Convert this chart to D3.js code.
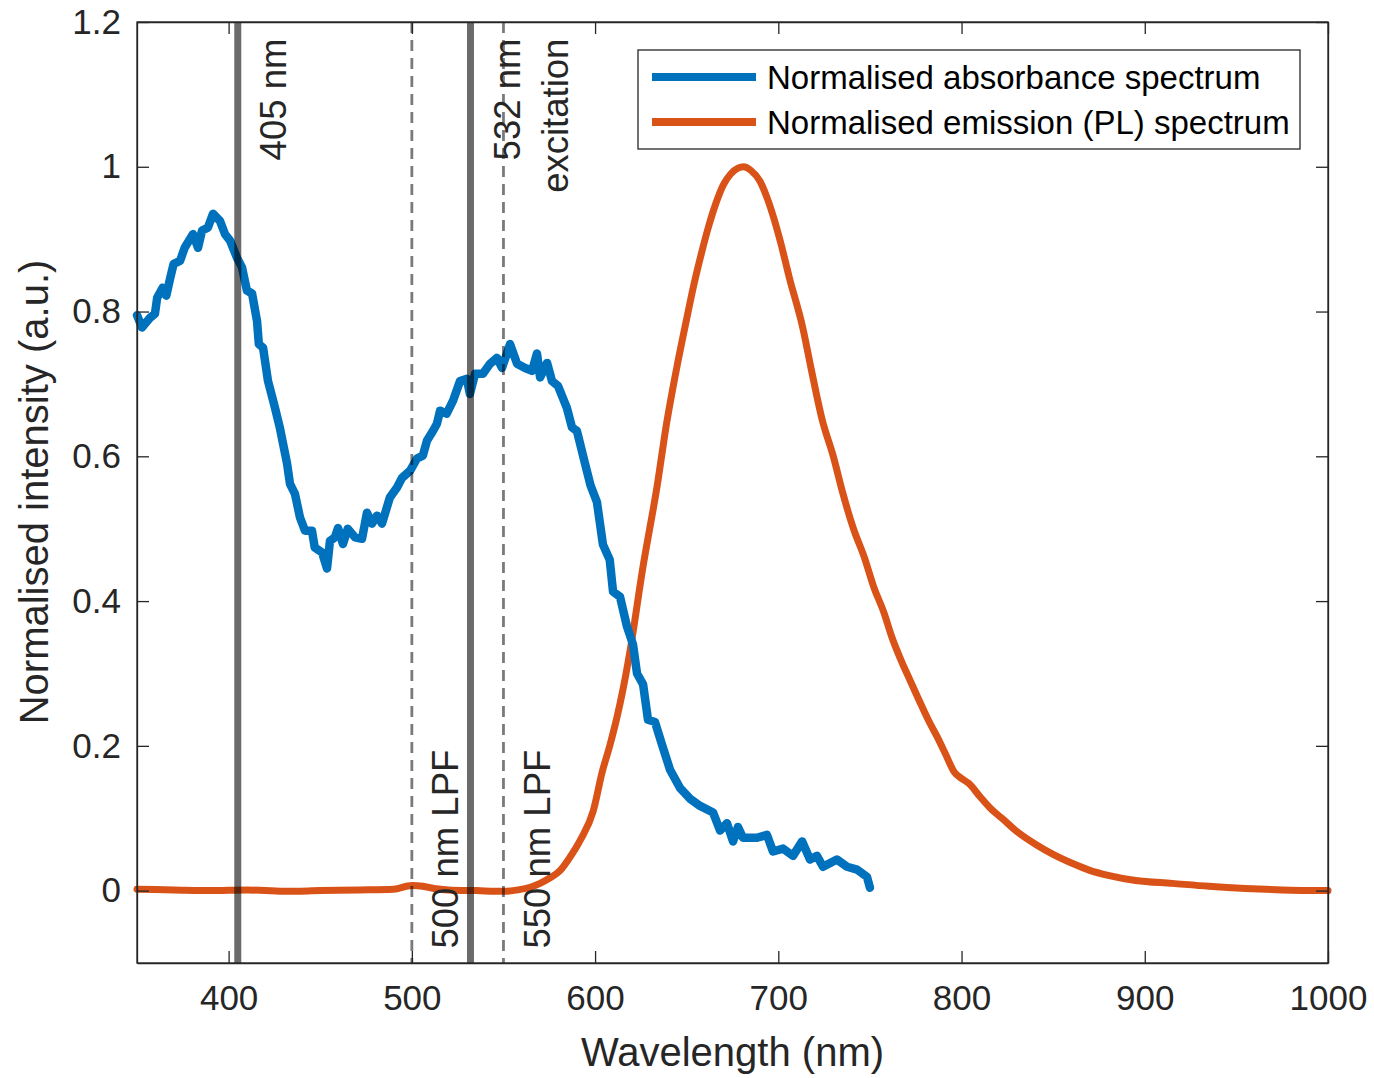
<!doctype html>
<html lang="en">
    <head>
        <meta charset="utf-8">
        <title>Absorbance and emission spectra</title>
        <script type="text/javascript" src="https://cdn.jsdelivr.net/npm/d3@7"></script>
        <style>
            body { margin: 0; background: #fff; }
            svg { display: block; font-family: "Liberation Sans", Arial, Helvetica, sans-serif; }
            .axis text { fill: #262626; font-size: 35px; }
            .axis line, .axis path { stroke: #262626; stroke-width: 1.3; }
        </style>
    </head>
    <body>
        <script type="text/javascript">
            // values, [wavelength nm, normalised intensity]
            var absorbance = [
                [350, 0.795], [352.7, 0.778], [357, 0.791], [359.8, 0.797], [361, 0.819], [364, 0.833],
                [366, 0.822], [368, 0.845], [370, 0.866], [373.5, 0.87], [376, 0.888], [380.6, 0.907],
                [383.3, 0.888], [385.5, 0.912], [388.7, 0.916], [391.5, 0.935], [395.3, 0.925], [398, 0.907],
                [400.8, 0.898], [404.6, 0.874], [407.3, 0.861], [410, 0.829], [412.8, 0.825], [415.5, 0.787],
                [416.5, 0.755], [418.8, 0.75], [421.5, 0.704], [425, 0.67], [428, 0.639], [431.9, 0.59],
                [433.5, 0.562], [436.2, 0.548], [439, 0.515], [441.7, 0.497], [445.5, 0.497], [447, 0.474],
                [451, 0.467], [453.7, 0.445], [455.3, 0.483], [458, 0.488], [459.7, 0.501], [462.4, 0.479],
                [465, 0.5], [469, 0.488], [472.8, 0.486], [475.5, 0.522], [478.2, 0.507], [481, 0.518],
                [483.7, 0.507], [488, 0.543], [491.9, 0.557], [494.6, 0.57], [499, 0.58], [502.8, 0.597],
                [506, 0.601], [508.3, 0.622], [511.5, 0.635], [513.7, 0.645], [515.4, 0.663], [519, 0.659],
                [522.5, 0.677], [526.3, 0.704], [530, 0.707], [531.7, 0.686], [534.5, 0.714], [538.8, 0.714],
                [542.7, 0.728], [546.5, 0.736], [549.2, 0.722], [553.6, 0.755], [557.4, 0.728], [561.8, 0.722],
                [565.6, 0.718], [568.3, 0.742], [570, 0.709], [573.8, 0.729], [576.5, 0.704], [579.8, 0.697],
                [584.6, 0.667], [587.4, 0.64], [590.1, 0.635], [594.5, 0.59], [597.5, 0.56], [601, 0.537],
                [604.3, 0.478], [608, 0.457], [609.8, 0.413], [613.6, 0.406], [617.4, 0.365], [620.7, 0.34],
                [622.9, 0.3], [626.2, 0.285], [628.9, 0.236], [632.7, 0.233], [636.5, 0.202], [640.9, 0.167],
                [646.3, 0.142], [651.8, 0.127], [657.3, 0.117], [664.4, 0.108], [668.2, 0.083], [672, 0.093],
                [675.3, 0.068], [678, 0.088], [680.7, 0.073], [688.4, 0.073], [693.8, 0.077], [697.1, 0.054],
                [702.6, 0.058], [708, 0.048], [713, 0.068], [717.3, 0.043], [721.1, 0.048], [724.4, 0.033],
                [732, 0.043], [737.5, 0.033], [743, 0.029], [748.4, 0.019], [750, 0.004]
            ];

            var emission = [
                [350, 0.002], [370, 0.001], [390, 0], [410, 0.001], [430, -0.001], [450, 0], [470, 0.001],
                [490, 0.002], [500, 0.007], [506, 0.006], [512, 0.003], [520, 0.001], [535, 0], [550, -0.001],
                [558, 0.001], [565, 0.005], [570, 0.01], [575, 0.017], [581, 0.028], [586, 0.045], [592, 0.07],
                [599, 0.11], [604, 0.165], [608, 0.2], [612, 0.24], [615, 0.275], [619, 0.33], [626, 0.445],
                [634, 0.561], [639, 0.645], [645, 0.728], [650, 0.79], [654, 0.838], [658, 0.88],
                [662, 0.918], [666, 0.95], [670, 0.975], [674, 0.99], [678, 0.998], [681, 1.0], [685, 0.995],
                [690, 0.98], [695, 0.949], [701, 0.898], [706, 0.847], [713.5, 0.776], [718, 0.72], [724, 0.65],
                [730, 0.6], [735, 0.551], [741, 0.5], [747, 0.46], [752, 0.42], [757.5, 0.385], [762, 0.35],
                [767, 0.318], [772, 0.29], [777, 0.262], [782, 0.235], [787, 0.211], [791, 0.19], [796, 0.164],
                [800, 0.155], [804, 0.148], [810, 0.13], [816, 0.113], [822, 0.1], [830, 0.082], [841, 0.063],
                [850, 0.05], [861, 0.037], [870, 0.028], [880, 0.021], [895, 0.014], [915, 0.01], [935, 0.006],
                [955, 0.003], [975, 0.001], [1000, 0]
            ];

            var laserLines = [405, 532];
            var filterLines = [500, 550];
            var xTicks = [400, 500, 600, 700, 800, 900, 1000];
            var yTicks = [0, 0.2, 0.4, 0.6, 0.8, 1, 1.2];
            var seriesNames = ["Normalised absorbance spectrum", "Normalised emission (PL) spectrum"];
            var seriesColors = ["#0072BD", "#D95319"];

            var svgW = 1374;
            var svgH = 1078;
            var margin = {top: 22, right: 46, bottom: 115, left: 137};
            var w = svgW - margin.left - margin.right;
            var h = svgH - margin.top - margin.bottom;

            var xScale = d3.scaleLinear().domain([350, 1000]).range([0, w]);
            var yScale = d3.scaleLinear().domain([-0.1, 1.2]).range([h, 0]);

            var svg = d3.select("body")
                        .append("svg")
                        .attr("width", svgW)
                        .attr("height", svgH);

            svg.append("rect")
               .attr("width", svgW)
               .attr("height", svgH)
               .attr("fill", "#fff");

            var g = svg.append("g")
                       .attr("transform", "translate(" + margin.left + ", " + margin.top + ")");

            var line = d3.line()
                         .x(d => xScale(d[0]))
                         .y(d => yScale(d[1]));

            // emission is a smooth curve, keep it smooth
            var smoothLine = d3.line()
                               .curve(d3.curveMonotoneX)
                               .x(d => xScale(d[0]))
                               .y(d => yScale(d[1]));

            g.append("path")
             .datum(emission)
             .attr("fill", "none")
             .attr("stroke", seriesColors[1])
             .attr("stroke-width", 7)
             .attr("stroke-linejoin", "round")
             .attr("stroke-linecap", "round")
             .attr("d", smoothLine);

            g.append("path")
             .datum(absorbance)
             .attr("fill", "none")
             .attr("stroke", seriesColors[0])
             .attr("stroke-width", 8.5)
             .attr("stroke-linejoin", "round")
             .attr("stroke-linecap", "round")
             .attr("d", line);

            // laser lines and filter edges, semi transparent on top
            g.selectAll(".laser")
             .data(laserLines)
             .enter()
             .append("line")
             .attr("class", "laser")
             .attr("x1", d => xScale(d))
             .attr("x2", d => xScale(d))
             .attr("y1", 0)
             .attr("y2", h)
             .attr("stroke", "#000")
             .attr("stroke-opacity", 0.58)
             .attr("stroke-width", 7);

            g.selectAll(".filter")
             .data(filterLines)
             .enter()
             .append("line")
             .attr("class", "filter")
             .attr("x1", d => xScale(d))
             .attr("x2", d => xScale(d))
             .attr("y1", 0)
             .attr("y2", h)
             .attr("stroke", "#000")
             .attr("stroke-opacity", 0.52)
             .attr("stroke-width", 2.8)
             .attr("stroke-dasharray", "11,7");

            // rotated notes
            var notes = [
                {text: "405 nm", x: 431.3, y: 1.177, anchor: "end"},
                {text: "532 nm", x: 559, y: 1.177, anchor: "end"},
                {text: "excitation", x: 585.2, y: 1.177, anchor: "end"},
                {text: "500 nm LPF", x: 525.2, y: -0.08, anchor: "start"},
                {text: "550 nm LPF", x: 575.4, y: -0.08, anchor: "start"}
            ];

            g.selectAll(".note")
             .data(notes)
             .enter()
             .append("text")
             .attr("class", "note")
             .attr("transform", d => "translate(" + xScale(d.x) + "," + yScale(d.y) + ") rotate(-90)")
             .attr("text-anchor", d => d.anchor)
             .attr("fill", "#262626")
             .attr("font-size", 36.5)
             .text(d => d.text);

            // axes with inward ticks on all four sides
            var fmt = d => String(d);

            g.append("g")
             .attr("class", "axis")
             .attr("transform", "translate(0, " + h + ")")
             .call(d3.axisBottom(xScale).tickValues(xTicks).tickFormat(fmt).tickSizeInner(-12).tickSizeOuter(0).tickPadding(22));

            g.append("g")
             .attr("class", "axis")
             .call(d3.axisTop(xScale).tickValues(xTicks).tickFormat("").tickSizeInner(-12).tickSizeOuter(0));

            g.append("g")
             .attr("class", "axis")
             .call(d3.axisLeft(yScale).tickValues(yTicks).tickFormat(fmt).tickSizeInner(-12).tickSizeOuter(0).tickPadding(16));

            g.append("g")
             .attr("class", "axis")
             .attr("transform", "translate(" + w + ", 0)")
             .call(d3.axisRight(yScale).tickValues(yTicks).tickFormat("").tickSizeInner(-12).tickSizeOuter(0));

            g.append("rect")
             .attr("width", w)
             .attr("height", h)
             .attr("fill", "none")
             .attr("stroke", "#262626")
             .attr("stroke-width", 1.3);

            // axis titles
            svg.append("text")
               .attr("x", margin.left + w / 2)
               .attr("y", 1066)
               .attr("text-anchor", "middle")
               .attr("fill", "#262626")
               .attr("font-size", 40)
               .text("Wavelength (nm)");

            svg.append("text")
               .attr("transform", "translate(48, 492) rotate(-90)")
               .attr("text-anchor", "middle")
               .attr("fill", "#262626")
               .attr("font-size", 40)
               .text("Normalised intensity (a.u.)");

            // legend
            var legend = svg.append("g")
                            .attr("transform", "translate(638, 50)");

            legend.append("rect")
                  .attr("width", 662)
                  .attr("height", 99)
                  .attr("fill", "#fff")
                  .attr("stroke", "#262626")
                  .attr("stroke-width", 1.3);

            var items = legend.selectAll(".item")
                              .data(seriesNames)
                              .enter()
                              .append("g")
                              .attr("class", "item")
                              .attr("transform", (d, i) => "translate(0, " + (27 + i * 45) + ")");

            items.append("line")
                 .attr("x1", 14)
                 .attr("x2", 118)
                 .attr("stroke", (d, i) => seriesColors[i])
                 .attr("stroke-width", 8);

            items.append("text")
                 .attr("x", 129)
                 .attr("y", 12)
                 .attr("fill", "#000")
                 .attr("font-size", 33)
                 .text(d => d);
        </script>
    </body>
</html>
